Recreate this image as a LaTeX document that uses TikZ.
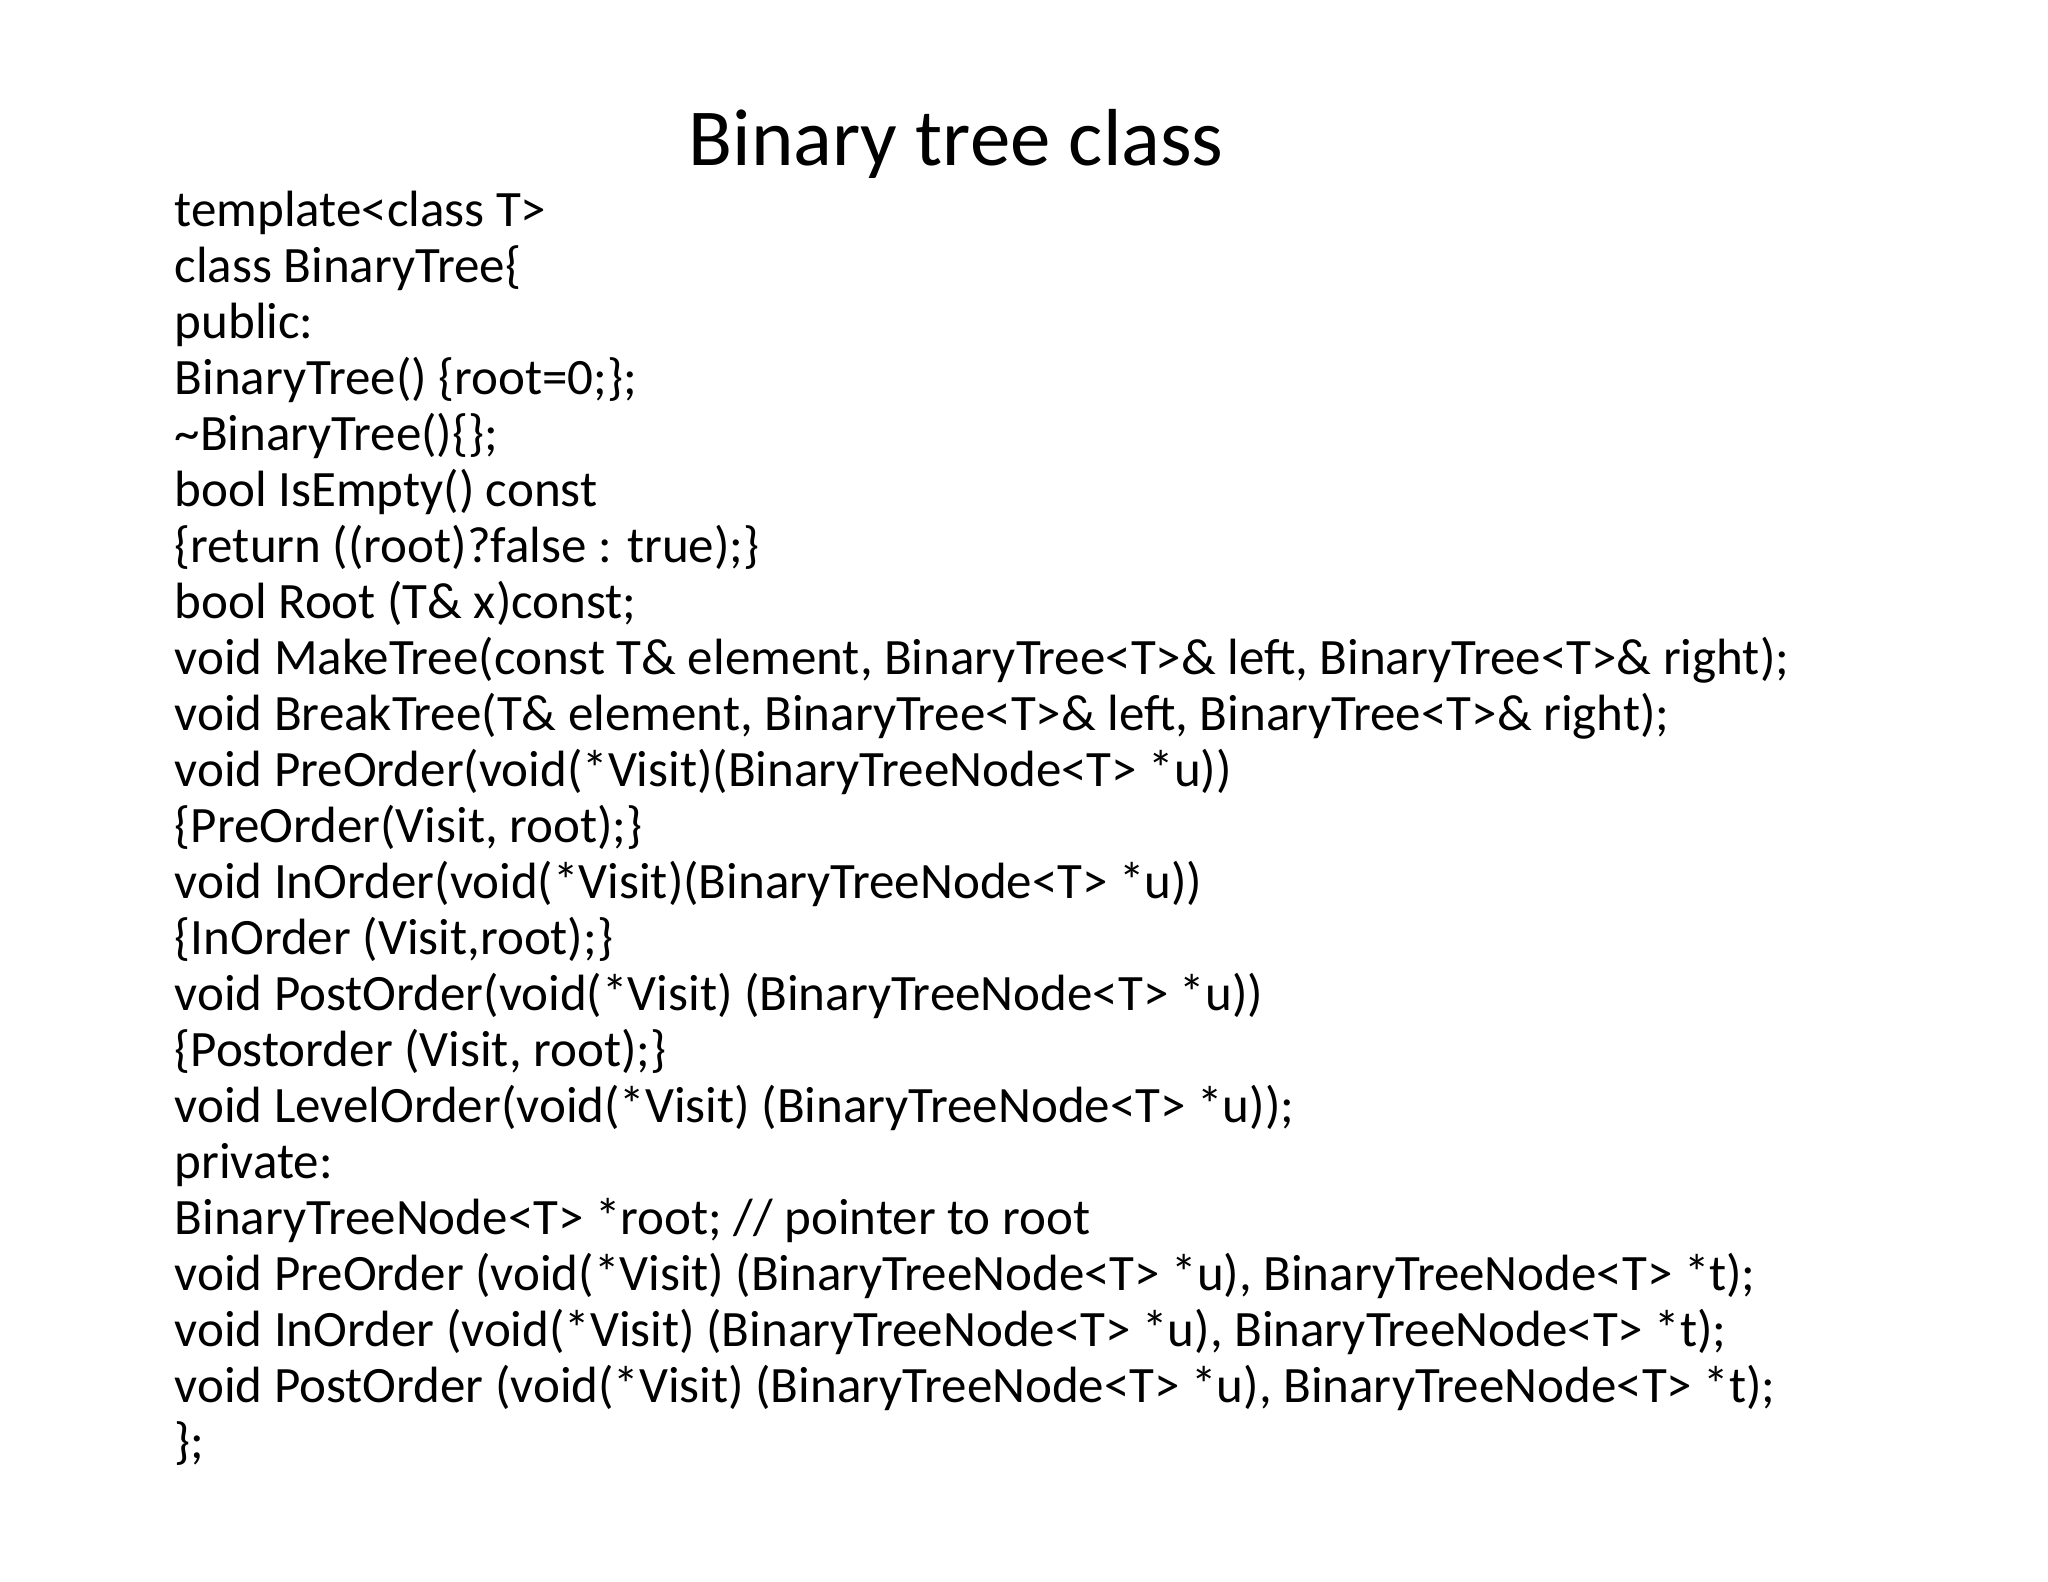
\documentclass[tikz,border=0pt]{standalone}
\usepackage{fontspec}
\setmainfont{Carlito}
\begin{document}
\begin{tikzpicture}[x=0.01cm,y=-0.01cm,
  codetxt/.style={anchor=north west,align=left,inner sep=0pt,font=\fontsize{14.5}{15.93}\selectfont},
  titletxt/.style={inner sep=0pt,font=\fontsize{23}{28}\selectfont}]
\useasboundingbox (0,0) rectangle (2048,1582);
\node[titletxt] (title) at (956,144) {Binary tree class};
\node[codetxt] (code) at (174,190) {template<class T>\\
class BinaryTree\{\\
public:\\
BinaryTree() \{root=0;\};\\
\textasciitilde BinaryTree()\{\};\\
bool IsEmpty() const\\
\{return ((root)?false : true);\}\\
bool Root (T\& x)const;\\
void MakeTree(const T\& element, BinaryTree<T>\& left, BinaryTree<T>\& right);\\
void BreakTree(T\& element, BinaryTree<T>\& left, BinaryTree<T>\& right);\\
void PreOrder(void(*Visit)(BinaryTreeNode<T> *u))\\
\{PreOrder(Visit, root);\}\\
void InOrder(void(*Visit)(BinaryTreeNode<T> *u))\\
\{InOrder (Visit,root);\}\\
void PostOrder(void(*Visit) (BinaryTreeNode<T> *u))\\
\{Postorder (Visit, root);\}\\
void LevelOrder(void(*Visit) (BinaryTreeNode<T> *u));\\
private:\\
BinaryTreeNode<T> *root; // pointer to root\\
void PreOrder (void(*Visit) (BinaryTreeNode<T> *u), BinaryTreeNode<T> *t);\\
void InOrder (void(*Visit) (BinaryTreeNode<T> *u), BinaryTreeNode<T> *t);\\
void PostOrder (void(*Visit) (BinaryTreeNode<T> *u), BinaryTreeNode<T> *t);\\
\};};
\end{tikzpicture}
\end{document}
